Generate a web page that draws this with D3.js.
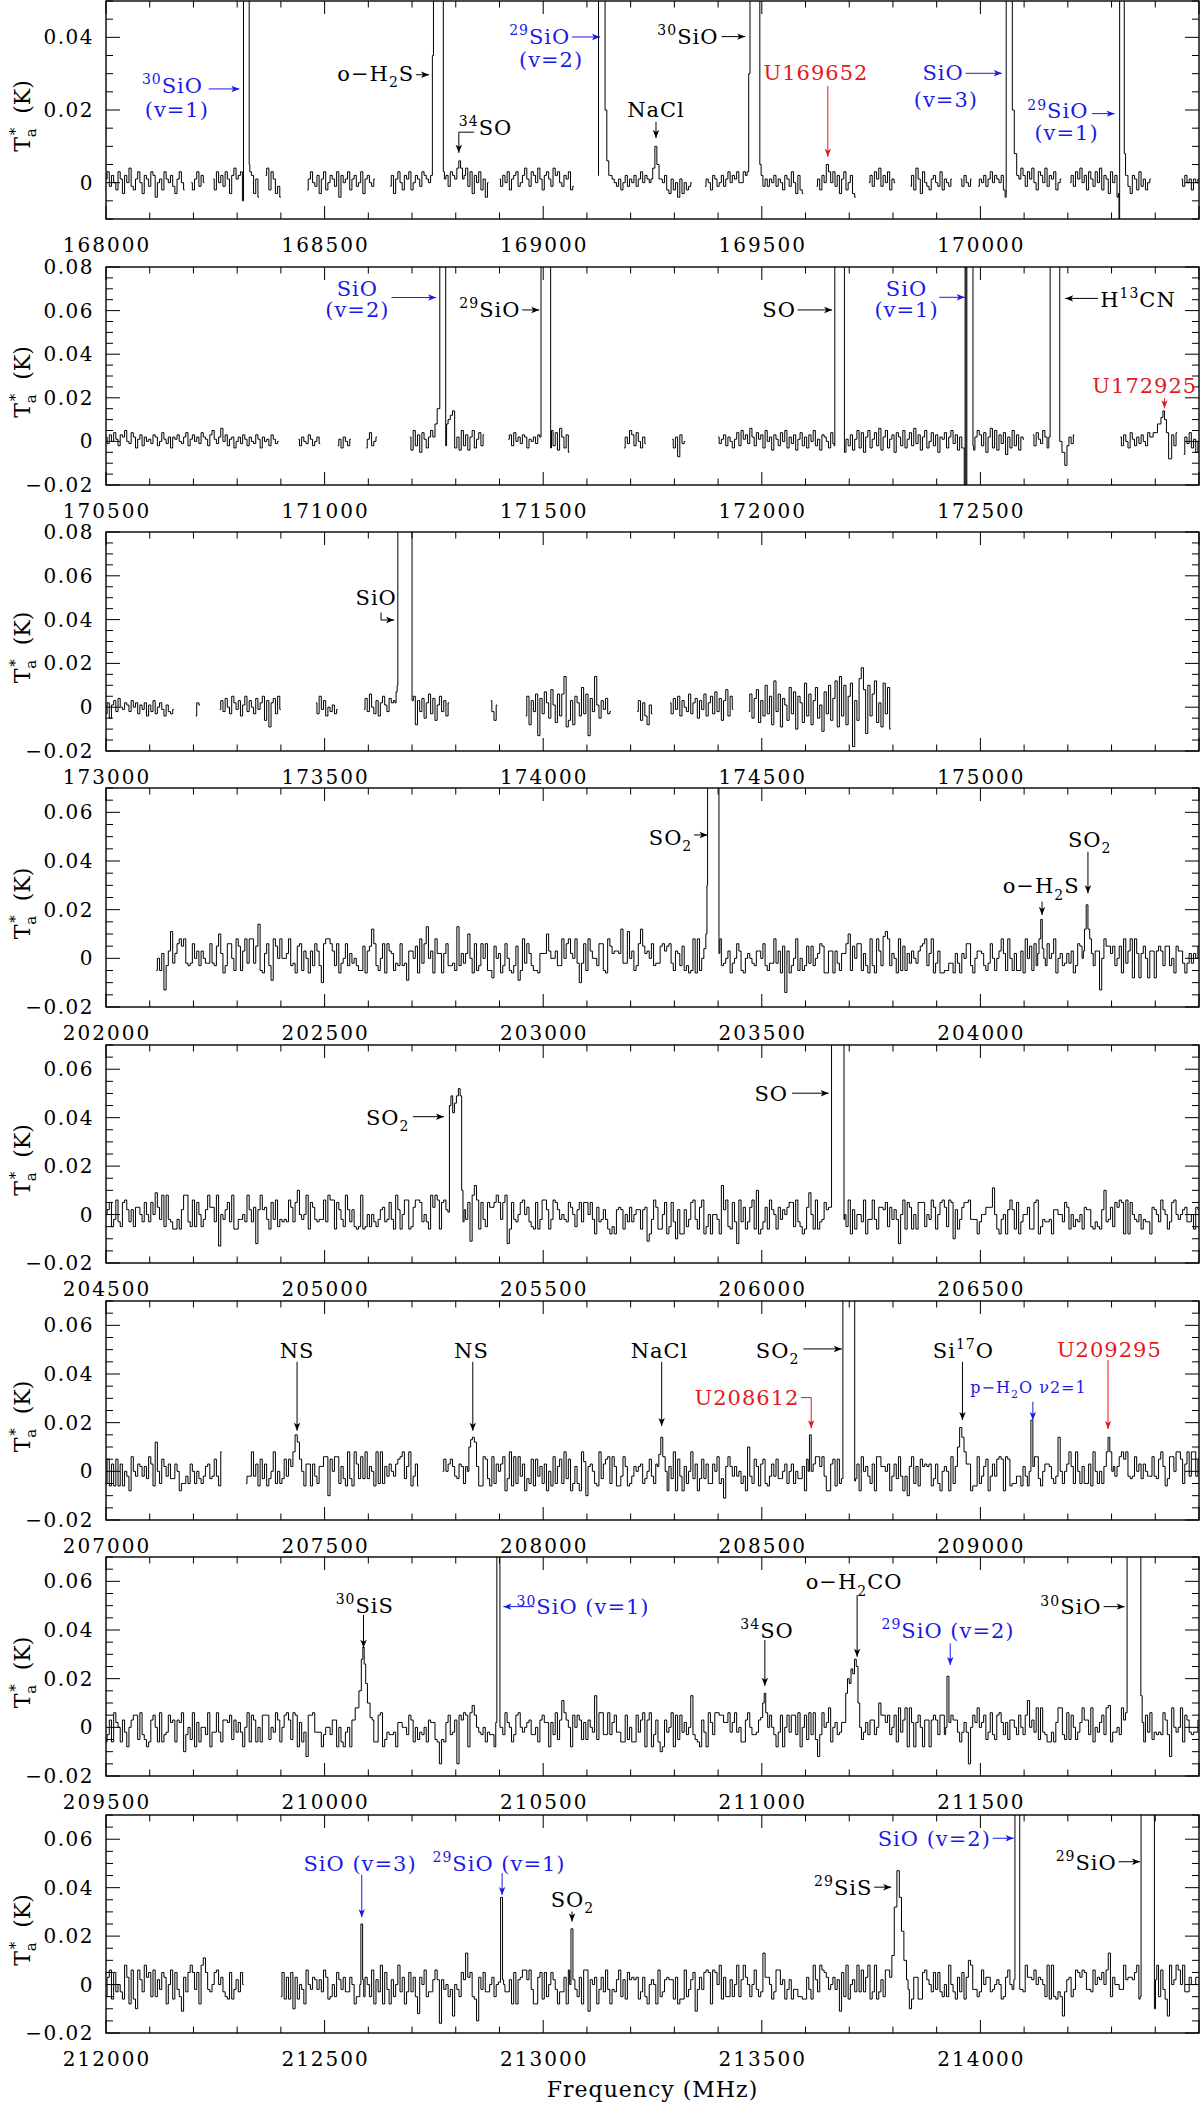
<!DOCTYPE html>
<html lang="en">
<head>
<meta charset="UTF-8">
<title>Spectra</title>
<script src="https://cdn.jsdelivr.net/npm/d3@7/dist/d3.min.js"></script>
<style>
  body { margin: 0; background: #fff; }
  svg text { font-family: "DejaVu Serif", serif; white-space: pre; }
</style>
</head>
<body>
<svg id="chart" width="1200" height="2105"></svg>
<script>
// ---- panel set-up ----
const panelStarts = [168000, 170500, 173000, 202000, 204500, 207000, 209500, 212000];
const panelSpan = 2500;
const panelYDomains = [[-0.01, 0.05], [-0.02, 0.08], [-0.02, 0.08], [-0.02, 0.07], [-0.02, 0.07], [-0.02, 0.07], [-0.02, 0.07], [-0.02, 0.07]];
const panelTops = [1, 267, 532, 788, 1045, 1301, 1557, 1815];
const panelBottoms = [219, 485, 751, 1007, 1263, 1520, 1776, 2033];
const yTickLabelValues = [
  [0, 0.02, 0.04],
  [-0.02, 0, 0.02, 0.04, 0.06, 0.08],
  [-0.02, 0, 0.02, 0.04, 0.06, 0.08],
  [-0.02, 0, 0.02, 0.04, 0.06],
  [-0.02, 0, 0.02, 0.04, 0.06],
  [-0.02, 0, 0.02, 0.04, 0.06],
  [-0.02, 0, 0.02, 0.04, 0.06],
  [-0.02, 0, 0.02, 0.04, 0.06]
];

// ---- spectra: [start MHz, values in mK every 5 MHz] ----
const p1Segments = [
  [168000, [1,3,-1,2,0,-2,3,1,-3,2, 0,4,-1,-2,1,3,0,-3,2,1, -1,3,2,-4,0,1,-2,3,1,0, 2,-1,-3,1,3,0,-2]],
  [168195, [0,-2,1,3,-1,2,0]],
  [168245, [1,-2,3,0,2,-1,3,1,-3,2, 4,1,2,3,0,4,-4,3,2,-3, 1,-4]],
  [168365, [2,4,-2,3,1,-3,-1,-4]],
  [168460, [-2,1,3,0,-1,2,-3,1,3,-2, 0,2,1,-1,3,-4,2,0,1,3, -2,1,2,-1,0,3,-3,1,2,0, -1,1]],
  [168650, [-1,2,-3,1,3,0,-2,2,1,3, -2,0,2,1,-1,3,2,1,0,1, 2,3,0,-2,3,1,2,-1,3,2, -2,1,3,-2,2,4,-1,3,-3,2, 0,3,-2,1,-4,0]],
  [168900, [1,-1,2,0,3,-2,1,2,3,-1, 0,2,4,1,-1,3,2,0,4,1, -2,2,3,1,-1,4,2,3,0,-1, 2,1,3,-2,-1]],
  [169125, [0,1,2,3,4,3,2,1,0,-1, 1,-2,0,2,-1,1,0,2,-1,1, 3,0,2,1,0,1,2,-1,3,1, 0,2,-2,-3,1,-2,0,-4,1,-3, 0,-2,-1,0]],
  [169370, [-1,1,0,-2,2,1,-1,0,2,-1, 1,3,0,2,1,3,0,0,3,2, 1,-1,2,0,1,-2,2,-1,1,-1, 1,0,2,-1,1,0,-2,2,1,-1, 3,0,-3,2,-2,-3]],
  [169625, [-1,1,-2,2,3,5,2,0,3,-1, 2,-3,1,3,-2,0,2,-3,-4]],
  [169745, [0,2,-1,3,1,4,-1,2,0,3,-2,1,0]],
  [169840, [-1,2,-2,4,1,-3,3,0,-1,-2, 1,2,0,-1,3,-2,1,0,-1,1]],
  [169955, [1,-1,2,0,-1,1]],
  [169995, [-1,1,0,2,-1,1,3,0,2,1, 0,2,-2,1,0,0,0,0,3,1, 4,2,-1,3,1,4,0,-2,3,2, 0,4,-1,2,1,3,-2,0,1]],
  [170205, [0,2,-1,3,1,4,0,2,-2,3, 1,-1,3,0,4,-2,2,1,-3,3, 0,2,-4,1,3,0,2,-1,-3,2, 1,-2,3,-1,1,-2,0,1]],
  [170460, [1,-1,2,0,1,-2,1,0,1]]
];
const p2Segments = [
  [170500, [2,-1,3,0,4,1,-2,3,2,5, 0,-1,4,2,-3,1,3,-2,2,0, 1,-1,3,2,-2,0,4,1,-1,2, -3,2,1,3,0,-1,2,4,-2,1, 3,0,2,-1,4,2,1,-2,3,5, 1,-1,2,6,0,3,-2,1,2,-3, 0,2,-1,3,1,-2,2,0,-1,3, 1,-3,2,0,1,-2,3,1,-1,0]],
  [170940, [1,-2,2,0,-1,3,1,-2,0,2,-1]],
  [171030, [-2,1,-3,2,0,-2,1]],
  [171095, [-3,1,4,-2,0,2]],
  [171195, [2,-4,5,-2,3,-5,4,1,-3,2, 5,0,3,-2,6,2,4,8,10,12, 14,-3,2,-4,5,-2,3,-4,2,5, -3,1,4,-2,3]],
  [171420, [1,3,-2,4,0,2,-1,3,2,-3, 1,0,2,-1,3,0,1,-2,3,-3, 5,-2,4,-4,6,2,-3,3,-5]],
  [171685, [-3,2,-1,5,3,-2,4,0,-3,2,-1]],
  [171795, [1,-3,2,-7,3,-1,0]],
  [171900, [2,-1,1,3,-2,2,0,-3,1,4, -2,5,1,3,-1,6,2,-2,4,1, 3,-3,5,0,2,-4,3,1,-2,4, 0,5,-3,2,-1,3,-4,1,4,-2, 2,-3,3,0,5,-2,1,-4,3,2, 0,-3,4,-1,2,-2,3,0,-5,1, -2,3,-4,1,5,-3,4,-5,2,5, -3,1,4,-2,6,-4,2,5,-3,1, 3,-5,4,2,-2,5,-3,1,4,-2, 6,-1,3,-4,2,5,-3,0,4,-2, 3,-5,2,1,4,-3,2,5,-1,3, -4,2,-3,-6,4,-8,6,-4,2,5, 3,-2,4,-5,2,6,-3,5,-4,3, -1,4,-6,2,-3,5,-2,3,-4,2, 1]],
  [172620, [3,-2,4,1,-1,5,2,-3,0,0, 0,0,0,-2,-5,-11,-4,2,-1,3]],
  [172820, [2,-2,3,0,-3,4,1,-2,2,-1, 3,0,-2,4,1,2,5,8,11,14, 10,4,-3,-8,3,-2,4]],
  [172965, [-6,2,-1,4,-3,1,-5,0]]
];
const p3Segments = [
  [173000, [-3,2,-5,1,3,-2,4,0,-1,2, 1,-2,3,0,2,-3,1,-1,2,-4, 1,-2,3,-3,0,2,-1,-4,1,-2, -3,-1]],
  [173205, [-4,2,1]],
  [173260, [-1,3,-2,4,0,-3,5,2,-1,3, -4,1,5,-2,3,0,-3,4,-1,2, 5,-6,3,-9,2,4,-3,5,-1]],
  [173480, [2,-3,5,-1,3,-4,0,-2,1,-3,-1]],
  [173590, [-1,4,-2,6,0,-3,3,-4,2,5, 1,-2,4,2,3,0,0,0,0,0, 0,0,-3,5,-8,3,-2,4,-5,2, 6,-3,4,-6,1,5,-2,3,-4,2]],
  [173880, [3,-2,-6,1]],
  [173960, [-4,5,-8,3,-2,6,-13,4,-3,7, 2,-5,8,1,-7,6,-4,6,14,-9, -6,3,-8,5,2,-4,9,-3,6,-13, 4,-2,14,1,-5,3,-1,4,-3,-2]],
  [174215, [-2,3,-6,2,-4,-8,1,-3]],
  [174290, [2,-3,4,-1,5,-4,3,0,-2,6, -3,2,4,-5,3,-1,6,-4,2,5, -3,7,-2,4,-6,3,8,-4,5,-1]],
  [174470, [-2,6,-5,4,8,-7,3,-4,10,-3, 5,-8,12,-2,6,-9,4,1,-6,9, -3,7,-10,5,2,-7,11,-4,6,-8, 3,9,-5,1,-11,7,-3,10,-6,4, 12,-9,14,-4,10,-8,5,11,-18,3, -6,13,18,8,-12,10,-4,6,12,-7, 2,-9,11,-3,9,-10]]
];
const p4Segments = [
  [202115, [-5,0,-5,2,-13,-3,3,11,-2,2, 6,8,5,8,-2,-3,-2,6,0,3,
    -3,3,0,-2,-2,6,-2,-3,5,10, 2,-6,-3,6,6,0,-5,8,5,-5,
    3,8,-2,8,8,-2,5,14,-5,-6, 2,6,-3,-9,8,5,0,8,0,0,
    2,8,-3,-2,-6,5,6,-5,3,0, -6,3,-3,6,3,-3,-10,6,8,8,
    6,3,-3,6,-6,-2,0,6,-3,2, -2,0,-3,-5,-5,5,-6,3,5,12,
    6,-3,-5,0,6,-6,6,3,2,-5, -2,-3,6,-3,-2,-9,3,3,0,5,
    -6,8,-2,6,13,0,3,-6,8,2, 2,-6,2,6,-3,-3,-2,-5,13,-3,
    2,-2,2,10,0,-6,6,-5,-3,6, 0,6,-5,-5,-8,5,0,2,-6,-3,
    6,0,-5,-6,-3,5,-9,-5,8,-2, 6,2,-3,-5,-5,-6,2,2,2,10,
    3,0,0,3,-3,-3,8,0,6,8, 2,0,8,-2,-10,-2,6,-5,8,3,
    0,0,-3,6,6,-5,-6,8,5,2, 3,3,2,12,-2,-2,11,0,3,-5,
    -3,6,12,5,2,3,0,6,-3,-2, -2,5,6,3,5,6,-2,-5,3,2,
    -3,5,-5,-3,-6,-5,8,-6,8,-5, 0,2,3,0,6,2,3,3,8,-3,
    -2,0,3,-6,-2,0,6,3,-5,-6, 0,2,0,-2,-3,3,3,0,6,-3,
    -5,-2,-2,8,-2,3,-6,5,-14,3, -6,-3,0,8,-5,0,-5,-3,5,-2,
    5,-3,0,2,6,5,-6,-6,3,3, -6,3,-2,-5,2,2,6,10,-5,5,
    0,6,6,-5,2,-3,-6,8,-3,-6, 8,3,-3,9,11,8,-3,2,0,-6,
    8,-5,5,-5,2,-2,3,0,-2,3, 5,6,8,-3,2,8,-6,-2,3,-6,
    -6,-5,-5,-2,-2,-6,2,-2,-6,2, 0,6,6,-3,-6,0,3,3,2,-3,
    -5,-2,6,0,-5,0,3,8,2,-5, 8,0,-5,2,-5,-5,3,-6,8,0,
    5,-5,6,-3,6,-5,6,-3,6,0, 2,8,-6,0,2,-3,-2,2,-2,3,
    -6,-3,6,5,0,5,-5,-2,2,-3, 3,3,-13,0,8,5,5,2,5,-3,
    0,5,-6,8,-2,3,8,-8,8,2, -8,2,5,0,-8,3,3,-8,3,5,
    3,-3,5,5,-3,0,-6,5,3,3, -2,-6,-2,2,-2,2,0,5,2,8]]
];
const p5Segments = [
  [204500, [0,2,5,-5,-2,6,-3,-5,5,6, 2,-3,2,-5,3,3,0,-3,5,0,
    -3,5,0,9,3,-2,8,-5,8,-2, -3,-6,-6,-2,-6,2,8,8,-3,-5,
    6,-5,5,0,-5,-2,2,8,3,3, -3,8,-13,0,-2,2,5,-3,8,-6,
    -6,-2,-2,0,-3,8,2,-3,3,-12, 2,8,2,3,-2,-6,5,-2,6,-5,
    -2,-3,-2,-3,6,3,-3,5,10,0, -2,0,8,-6,5,3,-2,-3,-2,-2,
    6,-3,8,6,6,-6,5,2,-2,-5, 8,2,-3,2,-5,-6,-5,8,-6,-5,
    0,-5,0,-3,-5,-2,2,3,-3,-2, 5,-2,-6,8,2,-6,0,6,6,-6,
    -5,3,6,6,5,-3,0,-3,-6,8, 3,8,6,-6,5,6,2,3,8,3,
    5,-5,6,5,2,-2,5,-11,8,12, 6,-6,5,-2,-5,5,3,3,5,8,
    5,-2,5,8,-12,-6,5,-2,-3,0, 5,6,0,3,-3,-5,-6,5,-6,-2,
    6,6,2,-6,-2,6,5,2,-2,0, -2,-3,5,3,0,-5,2,5,-3,5,
    5,0,5,-2,-8,3,-3,-2,2,-2, -6,-8,-5,-8,2,3,2,-6,0,-3,
    3,-3,0,2,2,-6,2,3,-11,-8, -2,6,3,-6,-6,0,5,-8,-5,5,
    -3,-10,2,-8,-8,2,-5,-2,5,6, -2,-6,3,6,-8,-5,0,-8,0,0,
    -2,-8,12,2,6,-5,-6,5,-3,-12, 6,-3,3,-6,-3,3,6,-6,10,-8,
    -6,-3,3,-6,6,2,0,-6,3,-2, 2,0,3,5,5,-5,6,-3,-5,-8,
    -6,3,9,0,-6,6,-6,-3,-2,5, 2,3,-6,3,2,6,-3,-3,0,-5,
    6,-8,2,-6,0,0,-3,6,-8,-2, -2,6,-2,-6,3,3,2,5,-5,3,
    -2,2,-2,-12,0,6,-6,5,3,-6, 0,-6,5,5,5,-5,0,-2,6,3,
    -6,0,5,6,3,-5,6,5,-10,2, -6,-2,3,5,5,6,-2,-2,-2,-8,
    -3,0,0,3,3,3,11,0,-6,-8, -2,0,-8,2,6,2,-6,5,-8,-3,
    0,0,3,-6,-6,5,6,-8,-5,-2, -3,-3,-2,-8,2,2,0,0,-3,5,
    3,-6,0,-5,-2,-3,0,-6,3,2, 2,-5,-6,-3,-5,-6,2,10,-3,-2,
    3,-5,5,3,6,5,-8,6,-8,5, 0,-2,-3,0,-6,-2,-3,-3,-8,3,
    2,0,-3,6,2,0,-6,-3,5,6, 0,-2,0,2,3,-3,-3,0,-6,3, 2]]
];
const p6Segments = [
  [207000, [-5,5,-6,3,-6,5,-6,3,-6,0, -2,-8,6,0,-2,3,2,-2,2,-3, 6,3,-6,12,0,-5,5,2,-2,3, -3,-3,3,0,-8,-5,-5,-2,-5,3, 0,-5,0,-3,-5,-2,2,3,-3,-2, 5,-2,-6,8]],
  [207320, [-5,-2,-2,8,-2,3,-6,5,-3,3, -6,-3,0,8,-5,0,-5,-3,5,-2, 5,-3,0,2,6,5,-6,-6,3,3, -6,3,-2,-5,2,2,6,6,-10,5, 0,6,6,-5,2,-3,-6,8,-3,-6, 8,3,-3,6,-3,8,-3,2,0,-6, 8,-5,8,-5,2,-2,3,0,-2,3, 5,6,8,-3,2,8,-6,-2,3,-6]],
  [207770, [0,5,0,3,5,2,-2,-3,3,2, -5,2,6,-8,-2,6,0,-6,-6,6,
    5,-3,-6,6,-5,3,0,3,6,-8, -3,8,-6,6,-5,6,-2,3,-8,-3,
    -5,5,-6,5,-2,2,-5,3,-8,0, -6,6,-5,2,5,-5,8,-3,5,-8,
    -5,2,-5,-8,8,4,-10,2,3,0, -5,-6,8,-3,3,5,6,-5,6,2,
    -6,-6,-2,6,2,-6,-5,-2,2,0, 2,3,-5,-3,0,5,-2,-5,3,-5,
    0,-5,6,-8,2,-3,8,-8,5,-2, -8,2,-5,0,8,-3,3,-8,-3,5,
    -3,3,-5,-5,3,0,6,-5,-3,-11, 2,6,2,-2,2,-2,0,-5,-2,-8,
    10,-2,-5,5,2,-6,3,5,-5,-6, -2,3,-2,5,-3,-3,0,3,-5,0,
    3,-5,0,-3,-3,2,-8,5,-8,2, 3,6,6,2,6,-2,-8,-8,3,5,
    -6,5,-5,0,5,2,-2,-8,-3,-3, 3,-8,6,0,2,-2,-5,3,-8,6,
    6,2,2,0,3,-8,-2,3,-3,6, -2,-8,-2,-10,2,6,-5,2,-6,5,
    2,3,2,3,-6,-3,3,-5,-8,0, 2,0,-8,6,-5,-3,2,3,2,2,
    -6,3,-8,-6,-6,6,-5,-2,2,5, -8,-2,3,-2,5,6,5,-8,6,5,
    -6,-5,-5,-2,-2,-6,2,-2,-6,2, 0,6,6,-3,-6,0,3,3,2,-3,
    -5,-2,14,0,-5,0,3,8,2,-5, 8,0,-5,2,-5,-5,3,-6,8,0,
    -5,0,-5,2,8,-3,3,2,-2,2, 6,8,5,8,-2,-3,-2,6,0,3,
    -3,3,0,-2,-2,6,-2,-3,5,8, 2,-6,-3,6,6,0,8,8,5,-5,
    3,8,-2,8,8,-2,5]]
];
const p7Segments = [
  [209500, [-6,-3,3,-6,6,2,0,-6,3,-2, -8,0,3,5,5,-5,6,-3,-5,-8,
    -6,3,5,0,-6,6,-6,-3,-2,5, 2,3,-6,3,2,6,-10,-3,0,-5,
    6,-8,2,-6,0,0,-3,6,-8,-2, -2,6,-2,-6,3,3,2,5,-5,3,
    -2,2,-2,-8,0,6,-6,5,3,-6, 0,-6,5,5,5,-5,0,-2,6,3,
    -6,0,5,6,3,-5,6,5,-8,2, -6,-2,-12,5,5,6,-2,-2,-2,-8,
    -3,0,0,-3,3,3,-8,0,-6,-8, -2,0,-8,2,6,2,-6,5,-8,-3,
    0,0,3,-6,-6,5,6,-8,-5,-2, -3,-3,-2,-8,2,2,0,0,-3,5,
    3,-6,0,-5,-2,-3,0,-6,3,2, 2,-5,-6,-15,-5,-6,2,5,-3,-2,
    3,-15,5,3,6,5,-8,6,9,5, 0,-2,-3,0,-6,-2,-3,-3,-8,3,
    2,0,-3,6,2,0,-6,-3,5,6, 0,-2,0,2,3,-3,-3,0,-6,3,
    5,2,2,-8,2,-3,6,-5,3,11, 6,3,0,-8,5,0,5,3,-5,2,
    -5,3,0,-2,13,-5,6,6,-3,-3, 6,-3,2,5,-2,-2,-6,-6,5,-5,
    0,-6,-6,5,-2,3,6,-8,3,6, -8,-3,3,-6,-10,-8,3,-2,0,6,
    -8,5,-5,5,-2,2,-3,0,13,-3, -5,-6,-8,3,-2,-8,6,2,-3,6,
    6,5,5,2,2,6,-2,2,6,-2, 0,-6,-6,3,6,0,-3,-3,-2,3,
    5,2,-6,0,5,0,-3,-8,-2,5, -8,0,5,-2,5,5,-3,6,-8,0,
    5,-5,6,-3,6,-5,-12,-3,6,0, 2,8,-6,0,2,-3,-2,2,-2,3,
    -6,-3,6,5,0,5,-5,-2,2,-3, 3,3,-3,0,10,5,5,2,5,-3,
    0,5,-6,8,-2,3,8,-8,8,2, -8,2,5,0,-8,3,3,-8,3,5,
    3,-3,5,5,-3,0,-6,5,3,3, -2,-6,-2,2,-2,-15,0,5,2,8,
    0,2,5,-5,-2,6,-3,-5,5,6, 2,-3,2,-5,3,3,0,-3,5,0,
    -3,5,11,0,3,-2,8,-5,8,-2, -3,-6,-6,-2,-6,2,8,8,-3,-5,
    6,-5,5,0,-5,-2,2,8,3,3, -3,8,-6,0,-2,2,5,-3,8,9,
    -6,-2,-2,0,-3,8,2,-3,3,-6, 2,8,2,3,-2,-6,5,-2,6,-5,
    -2,-3,-2,-3,6,3,-3,-12,8,0, -2,0,8,-6,5,3,-2,-3,-2,-2, 3]]
];
const p8Segments = [
  [212000, [-5,3,6,-6,5,-3,0,-3,-6,8, 3,-8,6,-6,-10,6,2,-3,8,3, 5,-5,6,-5,2,-2,5,3,-8,0, 6,-6,5,-2,-5,-11,3,-3,5,8, 5,-2,5,-8,8,11,5,-2,-3,0, 5,6,0,3,-3,-5,-6,5,-6,-2, 2,-3,5,0]],
  [212400, [-5,5,-6,3,-6,5,-10,3,-6,0, -2,-8,6,0,-2,3,2,-2,2,-3,
    6,3,-6,-5,0,-5,5,2,-2,3, -3,-3,3,0,-8,-5,-5,-2,-5,3,
    0,-5,6,-8,2,-3,8,-8,5,-2, -8,2,-5,0,8,-3,3,-8,-3,5,
    -3,3,-5,-12,3,0,6,-5,-3,-3, 2,6,2,-16,2,-2,0,-5,-2,-13,
    0,-2,-5,5,2,13,3,5,-5,-6, -15,3,-2,5,-3,-3,0,3,-5,0,
    3,-5,0,-3,-3,2,-8,5,-8,2, 3,6,6,2,6,-2,-8,-8,3,5,
    -6,5,-5,0,5,2,-2,-8,-3,-3, 3,-8,6,0,2,-2,-5,3,-8,6,
    6,-11,2,0,3,-8,-2,3,-3,6, -2,-8,-2,-3,2,6,-5,2,-6,5,
    2,3,2,3,-6,-3,3,-5,-8,0, 2,0,-8,6,-5,-3,2,3,2,2,
    -6,3,-8,-6,-6,6,-5,-2,2,5, -11,-2,3,-2,5,6,5,-8,6,5,
    0,8,-6,3,-5,-5,2,-5,0,8, -5,2,8,3,0,-5,0,6,-2,-5,
    -3,13,3,3,0,-6,-3,6,6,0, 2,-6,-2,2,-6,-2,-2,-5,-5,-6,
    -6,3,-2,-6,8,2,-3,8,6,5, 3,-2,0,3,-2,2,-11,5,-5,8,
    -6,0,2,-3,8,-3,6,-3,3,8, -6,-3,8,-6,-3,2,-5,6,6,0,
    5,-5,6,6,2,2,-5,-2,-10,-6, 3,3,-6,-6,5,6,2,0,-3,5,
    -2,5,-3,-5,0,-5,8,0,-3,-6, 3,-3,5,-6,3,10,8,-2,-2,-5,
    -3,6,0,3,3,-3,-2,0,2,0, -6,-5,3,6,0,-2,-6,3,0,-2,
    -3,8,3,3,2,6,0,3,2,0, -5,8,-6,8,-5,-6,-3,-5,-13,-3,
    2,3,-5,-2,6,5,3,6,5,-2, -2,-3,6,0,3,2,5,0,6,13,
    -5,3,0,0,-2,-2,8,2,3,3, 2,5,8,-6,-5,6,6,-3,0,0,
    3,8,-5,6,-2,-6,-13,8,0,2, 8,6,0,8,-3,-3,3,0,0,3, 3]]
];

// ---- line profiles: [MHz, mK] ----
const p1Lines = [
  [[168314,-5],[168315,80],[168327,80],[168328,5]],
  [[168745,2],[168748,35],[168750,80],[168770,80],[168773,3]],
  [[168800,1],[168805,4],[168809,6],[168813,4],[168818,1]],
  [[169125,2],[169128,80],[169140,80],[169143,20],[169148,6],[169152,2]],
  [[169248,1],[169253,4],[169258,10],[169262,5],[169268,1]],
  [[169468,3],[169472,30],[169474,80],[169494,80],[169497,5]],
  [[169645,0],[169650,5],[169655,3]],
  [[170058,-4],[170060,80],[170071,80],[170075,20],[170080,8],[170086,2]],
  [[170316,-3],[170318,-15],[170319,80],[170328,80],[170330,8],[170334,2]]
];
const p2Lines = [
  [[171250,2],[171255,8],[171260,15],[171263,15],[171264,100],[171276,100],[171278,-2]],
  [[171494,2],[171496,100],[171516,100],[171518,-3]],
  [[172166,-2],[172168,100],[172188,100],[172190,-5]],
  [[172462,-3],[172464,-25],[172466,100],[172468,-25],[172470,100],[172482,100],[172484,-2]],
  [[172658,2],[172661,100],[172680,100],[172683,0],[172690,-5],[172696,-11],[172700,-2]],
  [[172890,2],[172900,4],[172910,8],[172916,11],[172919,14],[172923,10],[172928,4],[172933,-8]]
];
const p3Lines = [
  [[173662,2],[173665,7],[173667,10],[173668,100],[173699,100],[173701,3]]
];
const p4Lines = [
  [[203370,4],[203374,10],[203375,30],[203377,100],[203401,100],[203403,2]],
  [[204132,2],[204136,8],[204140,16],[204143,4],[204147,0]],
  [[204236,3],[204240,12],[204244,22],[204248,12],[204252,8],[204256,2]]
];
const p5Lines = [
  [[205284,1],[205287,45],[205291,49],[205295,42],[205299,46],[205304,49],[205308,52],[205312,49],[205315,10],[205318,-3]],
  [[206158,3],[206161,100],[206187,100],[206189,-2]]
];
const p6Lines = [
  [[207425,2],[207430,8],[207435,15],[207440,12],[207445,5],[207450,0]],
  [[207828,0],[207832,10],[207836,13],[207840,14],[207845,12],[207850,2]],
  [[208262,2],[208267,7],[208271,14],[208276,6],[208282,0]],
  [[208607,0],[208611,15],[208615,0]],
  [[208684,-3],[208687,100],[208711,100],[208714,-4]],
  [[208945,2],[208950,10],[208955,18],[208960,14],[208965,8],[208970,3]],
  [[209113,0],[209118,21],[209122,2]],
  [[209286,2],[209290,8],[209294,14],[209298,8],[209303,0]]
];
const p7Lines = [
  [[210065,3],[210075,8],[210082,15],[210086,28],[210089,33],[210092,26],[210096,18],[210100,10],[210108,4]],
  [[210393,2],[210395,100],[210400,100],[210402,0]],
  [[211000,4],[211004,10],[211007,14],[211011,6],[211016,0]],
  [[211190,2],[211194,14],[211198,20],[211202,18],[211206,24],[211210,22],[211214,28],[211218,25],[211222,10],[211226,0]],
  [[211421,0],[211426,21],[211430,2]],
  [[211830,3],[211834,6],[211837,100],[211866,100],[211868,13],[211872,2]]
];
const p8Lines = [
  [[212581,0],[212585,25],[212589,2]],
  [[212900,1],[212905,36],[212909,2]],
  [[213061,0],[213066,23],[213070,2]],
  [[213795,3],[213800,12],[213806,32],[213812,47],[213817,36],[213822,22],[213828,10],[213834,2]],
  [[214078,2],[214080,100],[214089,100],[214091,-2]],
  [[214366,-5],[214369,100],[214397,100],[214399,-10],[214402,2]]
];

// ---- labels (t: text, f: MHz, v: K, a: anchor, c: colour) ----
const p1Labels = [
  {t:"^{30}SiO", f:168222, v:0.0246, a:"end", c:"b"},
  {t:"(v=1)", f:168162, v:0.0181, a:"middle", c:"b"},
  {t:"o−H_{2}S", f:168705, v:0.028, a:"end", c:"k"},
  {t:"^{34}SO", f:168807, v:0.0131, a:"start", c:"k"},
  {t:"^{29}SiO", f:169062, v:0.0382, a:"end", c:"b"},
  {t:"(v=2)", f:169018, v:0.0318, a:"middle", c:"b"},
  {t:"^{30}SiO", f:169401, v:0.0382, a:"end", c:"k"},
  {t:"NaCl", f:169258, v:0.0181, a:"middle", c:"k"},
  {t:"U169652", f:169624, v:0.0283, a:"middle", c:"r"},
  {t:"SiO", f:169962, v:0.0283, a:"end", c:"b"},
  {t:"(v=3)", f:169921, v:0.0208, a:"middle", c:"b"},
  {t:"^{29}SiO", f:170247, v:0.0177, a:"end", c:"b"},
  {t:"(v=1)", f:170197, v:0.0118, a:"middle", c:"b"}
];
const p1Arrows = [
  {p:[[168235,0.0258],[168305,0.0258]], c:"b"},
  {p:[[168709,0.0297],[168739,0.0297]], c:"k"},
  {p:[[168842,0.0139],[168807,0.0139],[168807,0.0082]], c:"k"},
  {p:[[169066,0.0401],[169130,0.0401]], c:"b"},
  {p:[[169408,0.0402],[169462,0.0402]], c:"k"},
  {p:[[169258,0.0167],[169258,0.0123]], c:"k"},
  {p:[[169651,0.0266],[169651,0.0071]], c:"r"},
  {p:[[169966,0.0301],[170049,0.0301]], c:"b"},
  {p:[[170255,0.019],[170307,0.019]], c:"b"}
];
const p2Labels = [
  {t:"SiO", f:171075, v:0.0667, a:"middle", c:"b"},
  {t:"(v=2)", f:171075, v:0.0571, a:"middle", c:"b"},
  {t:"^{29}SiO", f:171448, v:0.057, a:"end", c:"k"},
  {t:"SO", f:172078, v:0.057, a:"end", c:"k"},
  {t:"SiO", f:172331, v:0.0667, a:"middle", c:"b"},
  {t:"(v=1)", f:172331, v:0.0571, a:"middle", c:"b"},
  {t:"H^{13}CN", f:172774, v:0.0618, a:"start", c:"k"},
  {t:"U172925", f:172876, v:0.022, a:"middle", c:"r"}
];
const p2Arrows = [
  {p:[[171153,0.066],[171255,0.066]], c:"b"},
  {p:[[171452,0.0603],[171491,0.0603]], c:"k"},
  {p:[[172082,0.0603],[172161,0.0603]], c:"k"},
  {p:[[172406,0.0661],[172464,0.0661]], c:"b"},
  {p:[[172769,0.0656],[172694,0.0656]], c:"k"},
  {p:[[172921,0.0198],[172921,0.0152]], c:"r"}
];
const p3Labels = [
  {t:"SiO", f:173618, v:0.0467, a:"middle", c:"k"}
];
const p3Arrows = [
  {p:[[173629,0.0432],[173629,0.0398],[173659,0.0398]], c:"k"}
];
const p4Labels = [
  {t:"SO_{2}", f:203341, v:0.0466, a:"end", c:"k"},
  {t:"SO_{2}", f:204250, v:0.0459, a:"middle", c:"k"},
  {t:"o−H_{2}S", f:204139, v:0.0267, a:"middle", c:"k"}
];
const p4Arrows = [
  {p:[[203345,0.0507],[203376,0.0507]], c:"k"},
  {p:[[204246,0.0438],[204246,0.0267]], c:"k"},
  {p:[[204141,0.0233],[204141,0.0178]], c:"k"}
];
const p5Labels = [
  {t:"SO_{2}", f:205194, v:0.037, a:"end", c:"k"},
  {t:"SO", f:206060, v:0.0469, a:"end", c:"k"}
];
const p5Arrows = [
  {p:[[205202,0.0404],[205273,0.0404]], c:"k"},
  {p:[[206069,0.0501],[206153,0.0501]], c:"k"}
];
const p6Labels = [
  {t:"NS", f:207437, v:0.0467, a:"middle", c:"k"},
  {t:"NS", f:207836, v:0.0467, a:"middle", c:"k"},
  {t:"NaCl", f:208266, v:0.0467, a:"middle", c:"k"},
  {t:"SO_{2}", f:208586, v:0.0467, a:"end", c:"k"},
  {t:"Si^{17}O", f:208961, v:0.0467, a:"middle", c:"k"},
  {t:"U209295", f:209295, v:0.0471, a:"middle", c:"r"},
  {t:"U208612", f:208586, v:0.0272, a:"end", c:"r"},
  {t:"p−H_{2}O ν2=1", f:208977, v:0.032, a:"start", c:"b", s:16}
];
const p6Arrows = [
  {p:[[207437,0.045],[207437,0.0167]], c:"k"},
  {p:[[207839,0.045],[207839,0.0167]], c:"k"},
  {p:[[208271,0.045],[208271,0.0186]], c:"k"},
  {p:[[208595,0.0503],[208683,0.0503]], c:"k"},
  {p:[[208959,0.045],[208959,0.0211]], c:"k"},
  {p:[[209292,0.0457],[209292,0.0174]], c:"r"},
  {p:[[208590,0.0303],[208613,0.0303],[208613,0.0177]], c:"r"},
  {p:[[209120,0.0286],[209120,0.0211]], c:"b"}
];
const p7Labels = [
  {t:"^{30}SiS", f:210092, v:0.0469, a:"middle", c:"k"},
  {t:"^{30}SiO (v=1)", f:210439, v:0.0464, a:"start", c:"b"},
  {t:"^{34}SO", f:211012, v:0.0368, a:"middle", c:"k"},
  {t:"o−H_{2}CO", f:211211, v:0.0567, a:"middle", c:"k"},
  {t:"^{29}SiO (v=2)", f:211426, v:0.0368, a:"middle", c:"b"},
  {t:"^{30}SiO", f:211777, v:0.0464, a:"end", c:"k"}
];
const p7Arrows = [
  {p:[[210089,0.0462],[210089,0.0327]], c:"k"},
  {p:[[210479,0.0496],[210409,0.0496]], c:"b"},
  {p:[[211007,0.0359],[211007,0.0171]], c:"k"},
  {p:[[211218,0.0544],[211218,0.029]], c:"k"},
  {p:[[211431,0.0345],[211431,0.0256]], c:"b"},
  {p:[[211782,0.0496],[211830,0.0496]], c:"k"}
];
const p8Labels = [
  {t:"SiO (v=3)", f:212581, v:0.0469, a:"middle", c:"b"},
  {t:"^{29}SiO (v=1)", f:212899, v:0.0469, a:"middle", c:"b"},
  {t:"SO_{2}", f:213067, v:0.0322, a:"middle", c:"k"},
  {t:"^{29}SiS", f:213753, v:0.037, a:"end", c:"k"},
  {t:"SiO (v=2)", f:214024, v:0.0572, a:"end", c:"b"},
  {t:"^{29}SiO", f:214312, v:0.0473, a:"end", c:"k"}
];
const p8Arrows = [
  {p:[[212585,0.0453],[212585,0.0278]], c:"b"},
  {p:[[212906,0.046],[212906,0.037]], c:"b"},
  {p:[[213066,0.0301],[213066,0.026]], c:"k"},
  {p:[[213757,0.0402],[213796,0.0402]], c:"k"},
  {p:[[214028,0.0604],[214076,0.0604]], c:"b"},
  {p:[[214316,0.0507],[214365,0.0507]], c:"k"}
];

const panelSegments = [p1Segments, p2Segments, p3Segments, p4Segments, p5Segments, p6Segments, p7Segments, p8Segments];
const panelLines = [p1Lines, p2Lines, p3Lines, p4Lines, p5Lines, p6Lines, p7Lines, p8Lines];
const panelLabels = [p1Labels, p2Labels, p3Labels, p4Labels, p5Labels, p6Labels, p7Labels, p8Labels];
const panelArrows = [p1Arrows, p2Arrows, p3Arrows, p4Arrows, p5Arrows, p6Arrows, p7Arrows, p8Arrows];

// ---- drawing ----
const svg = d3.select("#chart");
const plotLeft = 106, plotRight = 1199;
const colours = {k: "#000000", b: "#1a1ae6", r: "#e31a1c"};
const step = 5;

const defs = svg.append("defs");
Object.entries(colours).forEach(([key, col]) => {
  defs.append("marker")
    .attr("id", "head-" + key)
    .attr("viewBox", "0 -5 10 10")
    .attr("refX", 10).attr("refY", 0)
    .attr("markerWidth", 9).attr("markerHeight", 8)
    .attr("markerUnits", "userSpaceOnUse")
    .attr("orient", "auto")
    .append("path")
    .attr("d", "M0,-4L10,0L0,4L2.5,0Z")
    .attr("fill", col);
});

function richText(sel, str, size) {
  const parts = str.split(/(\^\{[^}]*\}|_\{[^}]*\})/).filter(p => p.length);
  let shift = 0;
  parts.forEach(p => {
    let target = 0, txt = p, small = false;
    if (p.startsWith("^{")) { target = -0.42 * size; txt = p.slice(2, -1); small = true; }
    else if (p.startsWith("_{")) { target = 0.3 * size; txt = p.slice(2, -1); small = true; }
    const ts = sel.append("tspan").attr("dy", target - shift).text(txt);
    if (small) ts.attr("font-size", Math.round(size * 0.68));
    shift = target;
  });
}

function buildSegment(start, vals, lines) {
  const end = start + step * (vals.length - 1);
  const own = lines.filter(L => {
    const mid = (L[0][0] + L[L.length - 1][0]) / 2;
    return mid >= start - 10 && mid <= end + 10;
  });
  const pts = [];
  vals.forEach((v, i) => {
    const f = start + step * i;
    const covered = own.some(L => f >= L[0][0] && f <= L[L.length - 1][0]);
    if (!covered) pts.push([f, v]);
  });
  own.forEach(L => L.forEach(p => pts.push(p)));
  pts.sort((a, b) => a[0] - b[0]);
  return pts;
}

const yFmt = v => v === 0 ? "0" : d3.format(".2f")(v);

panelStarts.forEach((f0, i) => {
  const top = panelTops[i], bottom = panelBottoms[i];
  const x = d3.scaleLinear().domain([f0, f0 + panelSpan]).range([plotLeft, plotRight]);
  const y = d3.scaleLinear().domain(panelYDomains[i]).range([bottom, top]);
  const g = svg.append("g");

  defs.append("clipPath").attr("id", "clip" + i)
    .append("rect")
    .attr("x", plotLeft).attr("y", top)
    .attr("width", plotRight - plotLeft).attr("height", bottom - top);

  // spectrum
  const line = d3.line().x(d => x(d[0])).y(d => y(d[1] / 1000)).curve(d3.curveStep);
  const specG = g.append("g").attr("clip-path", "url(#clip" + i + ")");
  panelSegments[i].forEach(seg => {
    const pts = buildSegment(seg[0], seg[1], panelLines[i]);
    specG.append("path")
      .attr("d", line(pts))
      .attr("fill", "none")
      .attr("stroke", "#000")
      .attr("stroke-width", 1);
  });

  // ticks
  const xt = d3.range(f0, f0 + panelSpan + 1, 100);
  xt.forEach(f => {
    const major = (f - f0) % 500 === 0;
    const len = major ? 13 : 6.5;
    g.append("line").attr("x1", x(f)).attr("x2", x(f)).attr("y1", bottom).attr("y2", bottom - len)
      .attr("stroke", "#000").attr("stroke-width", 1);
    g.append("line").attr("x1", x(f)).attr("x2", x(f)).attr("y1", top).attr("y2", top + len)
      .attr("stroke", "#000").attr("stroke-width", 1);
  });
  const dom = panelYDomains[i];
  for (let k = Math.ceil(dom[0] / 0.005 - 1e-6); k <= Math.floor(dom[1] / 0.005 + 1e-6); k++) {
    const v = k * 0.005;
    const len = k % 4 === 0 ? 14 : 7;
    g.append("line").attr("x1", plotLeft).attr("x2", plotLeft + len).attr("y1", y(v)).attr("y2", y(v))
      .attr("stroke", "#000").attr("stroke-width", 1);
    g.append("line").attr("x1", plotRight).attr("x2", plotRight - len).attr("y1", y(v)).attr("y2", y(v))
      .attr("stroke", "#000").attr("stroke-width", 1);
  }

  // frame
  g.append("rect")
    .attr("x", plotLeft).attr("y", top)
    .attr("width", plotRight - plotLeft).attr("height", bottom - top)
    .attr("fill", "none").attr("stroke", "#000").attr("stroke-width", 1.4);

  // tick labels
  d3.range(f0, f0 + 2001, 500).forEach(f => {
    g.append("text")
      .attr("x", x(f) + 1).attr("y", bottom + 33)
      .attr("text-anchor", "middle")
      .attr("font-size", 20).attr("letter-spacing", 2)
      .text(f);
  });
  yTickLabelValues[i].forEach(v => {
    g.append("text")
      .attr("x", plotLeft - 12).attr("y", y(v) + 7)
      .attr("text-anchor", "end")
      .attr("font-size", 20).attr("letter-spacing", 1.5)
      .text(yFmt(v));
  });

  // y axis title
  const ty = g.append("text")
    .attr("transform", `translate(30,${(top + bottom) / 2 + 6}) rotate(-90)`)
    .attr("text-anchor", "middle")
    .attr("font-size", 22);
  ty.append("tspan").text("T");
  ty.append("tspan").attr("font-size", 15).attr("dy", 6).text("a");
  ty.append("tspan").attr("font-size", 15).attr("dx", -7).attr("dy", -16).text("*");
  ty.append("tspan").attr("dy", 10).text("  (K)");

  // arrows
  const aLine = d3.line().x(d => x(d[0])).y(d => y(d[1]));
  panelArrows[i].forEach(a => {
    g.append("path")
      .attr("d", aLine(a.p))
      .attr("fill", "none")
      .attr("stroke", colours[a.c])
      .attr("stroke-width", 1)
      .attr("marker-end", "url(#head-" + a.c + ")");
  });

  // labels
  panelLabels[i].forEach(l => {
    const size = l.s || 21;
    const t = g.append("text")
      .attr("x", x(l.f)).attr("y", y(l.v))
      .attr("text-anchor", l.a)
      .attr("font-size", size)
      .attr("letter-spacing", 1)
      .attr("fill", colours[l.c]);
    richText(t, l.t, size);
  });
});

svg.append("text")
  .attr("x", (plotLeft + plotRight) / 2).attr("y", 2097)
  .attr("text-anchor", "middle")
  .attr("font-size", 22).attr("letter-spacing", 1)
  .text("Frequency (MHz)");
</script>
</body>
</html>
